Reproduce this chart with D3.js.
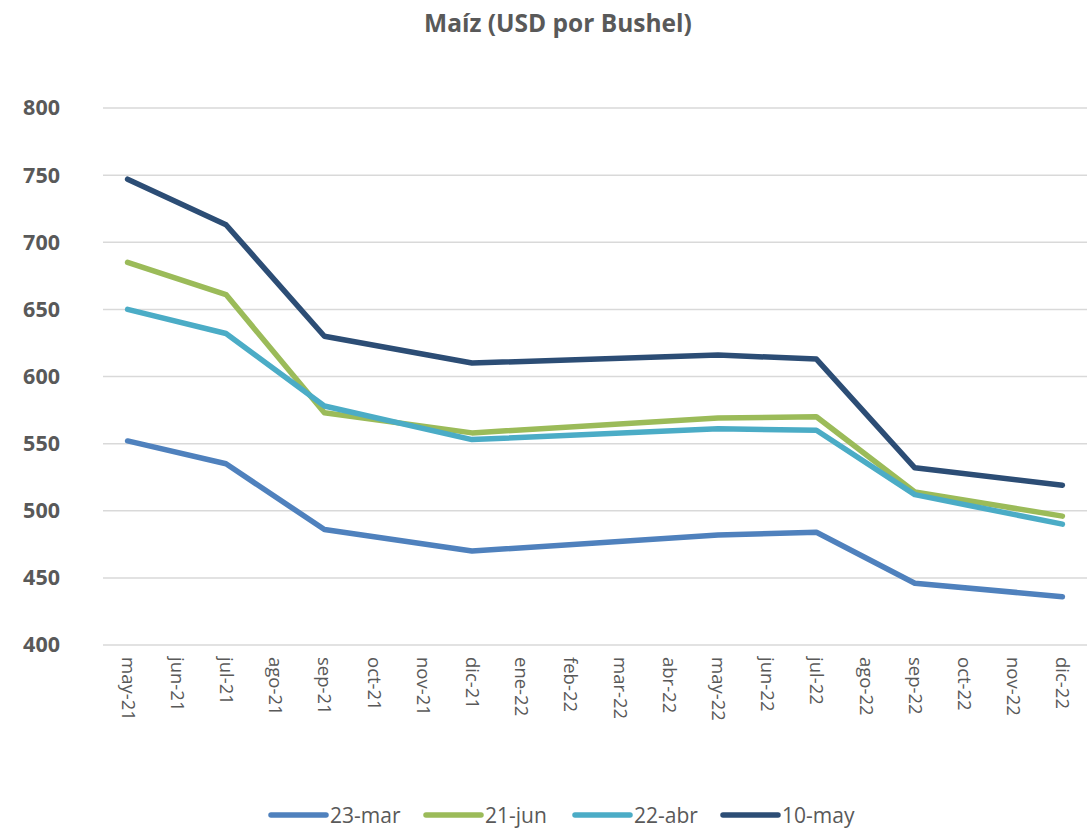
<!DOCTYPE html>
<html>
<head>
<meta charset="utf-8">
<script src="https://cdn.jsdelivr.net/npm/d3@7"></script>
<style>
  body { margin: 0; background: #fff; }
  svg { font-family: "Open Sans", Lato, sans-serif; }
</style>
</head>
<body>
<div id="chart"></div>
<script>
// month labels on the x axis
var months = ["may-21","jun-21","jul-21","ago-21","sep-21","oct-21","nov-21","dic-21",
              "ene-22","feb-22","mar-22","abr-22","may-22","jun-22","jul-22","ago-22",
              "sep-22","oct-22","nov-22","dic-22"];
// months that carry a value
var pointMonths = ["may-21","jul-21","sep-21","dic-21","may-22","jul-22","sep-22","dic-22"];

var seriesNames = ["23-mar","21-jun","22-abr","10-may"];
var mar23 = [552, 535, 486, 470, 482, 484, 446, 436];
var jun21 = [685, 661, 573, 558, 569, 570, 514, 496];
var abr22 = [650, 632, 578, 553, 561, 560, 512, 490];
var may10 = [747, 713, 630, 610, 616, 613, 532, 519];
var yTicks = [400, 450, 500, 550, 600, 650, 700, 750, 800];

var colors = ["#4F81BD", "#9BBB59", "#4BACC6", "#2C4D75"];
var seriesValues = [mar23, jun21, abr22, may10];

var width = 1091, height = 837;
var plotLeft = 103, plotRight = 1087, plotTop = 108, plotBottom = 645;
var fontStack = "'Open Sans', Lato, sans-serif";

var svg = d3.select("#chart").append("svg")
    .attr("width", width)
    .attr("height", height);

// title
svg.append("text")
    .attr("x", 558).attr("y", 32)
    .attr("text-anchor", "middle")
    .style("font-size", "24.5px")
    .style("font-weight", "bold")
    .style("fill", "#595959")
    .text("Maíz (USD por Bushel)");

var x = d3.scalePoint().domain(months).range([plotLeft, plotRight]).padding(0.5);
var y = d3.scaleLinear().domain([400, 800]).range([plotBottom, plotTop]);

// gridlines
svg.append("g").selectAll("line").data(yTicks)
    .enter().append("line")
    .attr("x1", plotLeft).attr("x2", plotRight)
    .attr("y1", function(d) { return y(d); })
    .attr("y2", function(d) { return y(d); })
    .style("stroke", "#d9d9d9")
    .style("stroke-width", 1.5);

// y axis labels
var yAxis = svg.append("g")
    .attr("transform", "translate(60,0)")
    .call(d3.axisLeft(y).tickValues(yTicks).tickSize(0).tickPadding(0));
yAxis.select(".domain").remove();
yAxis.selectAll("text")
    .style("font-family", fontStack)
    .style("font-size", "21.5px")
    .style("font-weight", "bold")
    .style("fill", "#595959");

// x axis labels, rotated
var xAxis = svg.append("g")
    .attr("transform", "translate(0," + (plotBottom + 12) + ")")
    .call(d3.axisBottom(x).tickSize(0).tickPadding(0));
xAxis.select(".domain").remove();
xAxis.selectAll("text")
    .attr("transform", "rotate(90)")
    .attr("x", 0).attr("y", 0)
    .attr("dy", "0.35em")
    .attr("text-anchor", "start")
    .style("font-family", fontStack)
    .style("font-size", "18.5px")
    .style("fill", "#595959");

// series lines
var line = d3.line()
    .x(function(d, i) { return x(pointMonths[i]); })
    .y(function(d) { return y(d); });

svg.append("g").selectAll("path").data(seriesValues)
    .enter().append("path")
    .attr("d", line)
    .style("fill", "none")
    .style("stroke", function(d, i) { return colors[i]; })
    .style("stroke-width", 5.5)
    .style("stroke-linecap", "round")
    .style("stroke-linejoin", "round");

// legend
var legendX = [271, 426, 575, 723];
var legend = svg.append("g").selectAll("g").data(seriesNames)
    .enter().append("g")
    .attr("transform", function(d, i) { return "translate(" + legendX[i] + ",815)"; });
legend.append("line")
    .attr("x1", 0).attr("x2", 55)
    .style("stroke", function(d, i) { return colors[i]; })
    .style("stroke-width", 5.5)
    .style("stroke-linecap", "round");
legend.append("text")
    .attr("x", 59).attr("y", 7.5)
    .style("font-size", "21px")
    .style("fill", "#595959")
    .text(function(d) { return d; });
</script>
</body>
</html>
